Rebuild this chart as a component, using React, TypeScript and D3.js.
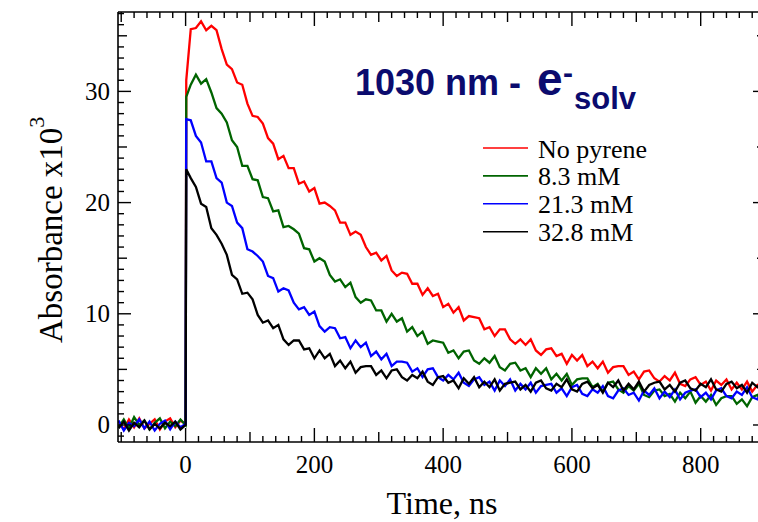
import React from 'react';
import * as d3 from 'd3';

// Time grid (ns): pre-trigger baseline, the jump right after t=0, then the decay
const times: number[] = [...d3.range(-104, 1, 8), 1, ...d3.range(8, 897, 8)];

const seriesNames = ['No pyrene', '8.3 mM', '21.3 mM', '32.8 mM'];
const seriesColors = ['#ff0000', '#006400', '#0000ff', '#000000'];

const noPyrene = [
  0.3, -0.4, 0.5, -0.2, 0.6, -0.3, 0.1, 0.5, -0.4, 0.3, 0.6, -0.2, 0.4, 0.1,
  31.0,
  35.6, 35.7, 36.3, 35.5, 35.9, 35.5, 33.8, 32.4, 32.0, 30.8, 30.6, 28.9, 27.8, 27.7,
  27.1, 25.8, 25.3, 23.9, 24.2, 23.1, 23.1, 21.7, 21.9, 21.0, 21.3, 19.9, 20.0, 19.7,
  19.3, 18.2, 18.2, 17.1, 17.4, 17.1, 16.0, 15.3, 15.5, 14.8, 15.2, 13.9, 13.4, 13.7,
  13.6, 12.7, 12.7, 11.7, 12.3, 11.6, 11.8, 10.6, 10.9, 10.1, 10.6, 9.4, 9.8, 9.7,
  9.6, 8.6, 8.8, 8.0, 8.6, 8.6, 7.7, 7.3, 7.7, 7.2, 7.7, 6.7, 6.3, 6.8,
  6.9, 6.2, 6.4, 5.5, 6.3, 5.8, 6.3, 5.3, 5.7, 5.1, 5.7, 4.7, 5.2, 5.3,
  5.3, 4.5, 4.8, 4.1, 4.8, 4.9, 4.2, 3.9, 4.4, 4.0, 4.7, 3.7, 3.5, 4.1,
  4.3, 3.6, 3.9, 3.1, 4.0, 3.6, 4.1, 3.2, 3.8, 3.2, 3.9, 3.0, 3.6, 3.8,
];

const mM8_3 = [
  -0.2, 0.5, -0.3, 0.7, 0.0, 0.4, -0.4, 0.2, 0.6, -0.3, 0.3, -0.1, 0.5, 0.0,
  29.5,
  30.6, 31.5, 30.7, 31.1, 29.9, 28.5, 28.0, 27.2, 25.6, 25.0, 23.3, 23.3, 22.1, 22.0,
  20.5, 20.4, 19.2, 19.3, 17.8, 17.9, 17.6, 17.2, 15.9, 15.8, 14.7, 15.0, 14.7, 13.5,
  12.9, 13.1, 12.4, 12.8, 11.5, 11.0, 11.3, 11.2, 10.3, 10.3, 9.3, 10.0, 9.3, 9.6,
  8.4, 8.8, 8.0, 8.4, 7.3, 7.6, 7.5, 7.4, 6.5, 6.7, 6.0, 6.6, 6.7, 5.8,
  5.5, 6.0, 5.6, 6.2, 5.2, 4.9, 5.5, 5.6, 4.9, 5.1, 4.3, 5.1, 4.6, 5.1,
  4.1, 4.6, 4.0, 4.6, 3.6, 4.1, 4.2, 4.2, 3.4, 3.7, 3.0, 3.8, 3.9, 3.2,
  2.9, 3.5, 3.1, 3.7, 2.7, 2.5, 3.1, 3.2, 2.6, 2.8, 2.1, 2.9, 2.4, 3.0,
  2.0, 2.6, 2.1, 2.7, 1.8, 2.4, 2.6, 2.6, 1.9, 2.3, 1.7, 2.5, 2.7, 2.0,
];

const mM21_3 = [
  0.4, -0.5, 0.2, -0.1, 0.5, -0.3, 0.3, -0.5, 0.1, 0.4, -0.4, 0.3, -0.2, 0.1,
  27.5,
  27.4, 26.0, 25.4, 23.7, 23.7, 22.2, 21.8, 20.0, 19.7, 18.2, 17.7, 15.8, 15.6, 15.2,
  14.7, 13.4, 13.2, 12.0, 12.3, 12.1, 11.0, 10.4, 10.6, 9.9, 10.2, 8.9, 8.4, 8.8,
  8.7, 7.8, 7.9, 6.9, 7.6, 7.0, 7.4, 6.2, 6.6, 5.9, 6.4, 5.3, 5.7, 5.7,
  5.6, 4.8, 5.1, 4.3, 5.0, 5.1, 4.3, 4.0, 4.5, 4.1, 4.7, 3.8, 3.5, 4.1,
  4.3, 3.6, 3.9, 3.1, 4.0, 3.5, 4.1, 3.1, 3.7, 3.2, 3.8, 2.9, 3.5, 3.6,
  3.7, 2.9, 3.3, 2.6, 3.4, 3.6, 2.8, 2.6, 3.2, 2.9, 3.5, 2.6, 2.4, 3.1,
  3.3, 2.7, 2.9, 2.2, 3.1, 2.7, 3.3, 2.4, 3.0, 2.5, 3.2, 2.3, 2.9, 3.1,
  3.2, 2.5, 2.9, 2.3, 3.1, 3.3, 2.6, 2.4, 3.0, 2.7, 3.4, 2.5, 2.3, 3.0,
];

const mM32_8 = [
  -0.3, 0.3, -0.5, 0.2, -0.2, 0.4, -0.4, 0.1, -0.3, 0.2, -0.1, 0.3, -0.4, 0.0,
  23.0,
  22.2, 21.4, 19.9, 19.6, 17.7, 17.1, 16.3, 15.3, 13.5, 13.1, 11.8, 11.9, 11.3, 9.9,
  9.2, 9.4, 8.7, 9.0, 7.7, 7.2, 7.6, 7.6, 6.8, 6.9, 6.0, 6.7, 6.0, 6.4,
  5.3, 5.8, 5.1, 5.7, 4.7, 5.2, 5.3, 5.3, 4.5, 4.9, 4.2, 4.9, 5.0, 4.3,
  4.0, 4.5, 4.2, 4.8, 3.9, 3.6, 4.3, 4.4, 3.8, 4.0, 3.3, 4.2, 3.7, 4.3,
  3.4, 3.9, 3.4, 4.1, 3.1, 3.7, 3.8, 3.9, 3.2, 3.6, 3.0, 3.8, 4.0, 3.3,
  3.1, 3.7, 3.4, 4.1, 3.2, 3.0, 3.7, 3.9, 3.3, 3.6, 2.9, 3.8, 3.4, 4.0,
  3.1, 3.7, 3.2, 3.9, 3.0, 3.6, 3.8, 3.9, 3.2, 3.6, 3.0, 3.8, 4.0, 3.3,
  3.1, 3.7, 3.4, 4.1, 3.2, 3.0, 3.7, 3.9, 3.3, 3.6, 2.9, 3.8, 3.4, 4.0,
];

const seriesValues = [noPyrene, mM8_3, mM21_3, mM32_8];

const xTickLabels = [0, 200, 400, 600, 800];
const yTickLabels = [0, 10, 20, 30];

const SERIF = "'Liberation Serif', 'Times New Roman', serif";
const SANS = "'Liberation Sans', Arial, sans-serif";

export default function App() {
  const W = 758;
  const H = 522;
  const left = 118;
  const top = 12;
  const bottom = 442;
  const rightAxis = 766;

  const x = d3.scaleLinear().domain([-105, 889]).range([left, 758]);
  const y = d3.scaleLinear().domain([-1.53, 37.14]).range([bottom, top]);

  const line = d3
    .line<number>()
    .x((_, i) => x(times[i]))
    .y((d) => y(d));

  const xTicks = d3.range(-100, 900, 20);
  const yTicks = d3.range(-1, 38, 1);
  const xLen = (t: number) => (t % 200 === 0 ? 14 : t % 100 === 0 ? 10 : 6);
  const yLen = (v: number) => (v % 10 === 0 ? 13 : v % 5 === 0 ? 9 : 6);

  const legendX1 = 483;
  const legendX2 = 528;
  const legendY0 = 148;
  const legendDy = 27.9;

  return (
    <svg
      width={W}
      height={H}
      style={{ position: 'absolute', left: 0, top: 0, background: '#fff' }}
    >
      <defs>
        <clipPath id="plotClip">
          <rect x={left} y={top} width={rightAxis - left} height={bottom - top} />
        </clipPath>
      </defs>
      <rect x={0} y={0} width={W} height={H} fill="#fff" />

      {/* data */}
      <g clipPath="url(#plotClip)">
        {seriesValues.map((vals, i) => (
          <path
            key={seriesNames[i]}
            d={line(vals) || ''}
            fill="none"
            stroke={seriesColors[i]}
            strokeWidth={2.3}
            strokeLinejoin="miter"
          />
        ))}
      </g>

      {/* frame */}
      <g stroke="#000" strokeWidth={1.6} fill="none">
        <line x1={left} y1={top} x2={rightAxis} y2={top} />
        <line x1={left} y1={bottom} x2={rightAxis} y2={bottom} />
        <line x1={left} y1={top} x2={left} y2={bottom} />
        <line x1={rightAxis} y1={top} x2={rightAxis} y2={bottom} />
      </g>

      {/* x ticks */}
      <g stroke="#000" strokeWidth={1.4}>
        {xTicks.map((t) => (
          <g key={'xt' + t}>
            <line x1={x(t)} x2={x(t)} y1={bottom} y2={bottom - xLen(t)} />
            <line x1={x(t)} x2={x(t)} y1={top} y2={top + xLen(t)} />
          </g>
        ))}
      </g>
      {/* y ticks */}
      <g stroke="#000" strokeWidth={1.4}>
        {yTicks.map((v) => (
          <g key={'yt' + v}>
            <line x1={left} x2={left + yLen(v)} y1={y(v)} y2={y(v)} />
            <line x1={rightAxis} x2={rightAxis - yLen(v)} y1={y(v)} y2={y(v)} />
          </g>
        ))}
      </g>

      {/* tick labels */}
      <g fontFamily={SERIF} fontSize={25} fill="#000">
        {xTickLabels.map((t) => (
          <text key={'xl' + t} x={x(t)} y={473} textAnchor="middle">
            {t}
          </text>
        ))}
        {yTickLabels.map((v) => (
          <text key={'yl' + v} x={110} y={y(v) + 8.5} textAnchor="end">
            {v}
          </text>
        ))}
      </g>

      {/* axis titles */}
      <text x={442} y={514} fontFamily={SERIF} fontSize={32} textAnchor="middle" fill="#000">
        Time, ns
      </text>
      <text
        transform="translate(62,343) rotate(-90)"
        fontFamily={SERIF}
        fontSize={33}
        fill="#000"
      >
        Absorbance x10
        <tspan dy={-18} fontSize={22}>
          3
        </tspan>
      </text>

      {/* title */}
      <text fontFamily={SANS} fontWeight="bold" fill="#0b0b6e">
        <tspan x={355} y={95} fontSize={36}>
          1030 nm -
        </tspan>
        <tspan x={537} y={95} fontSize={46}>
          e
        </tspan>
        <tspan x={563} y={83} fontSize={30}>
          -
        </tspan>
        <tspan x={574} y={109} fontSize={31}>
          solv
        </tspan>
      </text>

      {/* legend */}
      <g>
        {seriesNames.map((name, i) => (
          <g key={'lg' + name}>
            <line
              x1={legendX1}
              x2={legendX2}
              y1={legendY0 + i * legendDy}
              y2={legendY0 + i * legendDy}
              stroke={seriesColors[i]}
              strokeWidth={1.6}
            />
            <text
              x={538}
              y={legendY0 + i * legendDy + 9.5}
              fontFamily={SERIF}
              fontSize={26}
              fill="#000"
            >
              {name}
            </text>
          </g>
        ))}
      </g>
    </svg>
  );
}
